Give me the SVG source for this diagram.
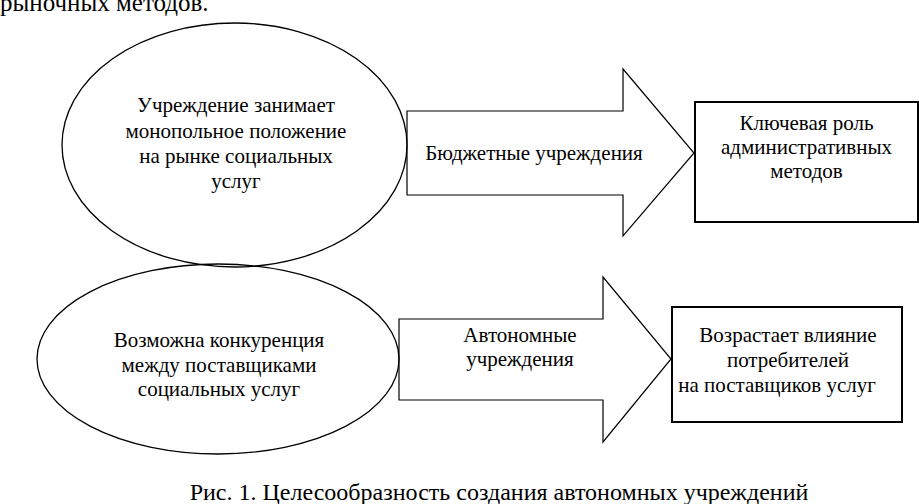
<svg xmlns="http://www.w3.org/2000/svg" width="919" height="504" viewBox="0 0 919 504">
<rect width="919" height="504" fill="#fff"/>
<text x="0" y="11" font-size="25" font-family="Liberation Serif">рыночных методов.</text>
<g id="connectors" fill="#fff" stroke="#000" stroke-width="1.2">
<path id="arrow-top" d="M407,111 H623 V69 L694,153 L623,236 V195 H407 Z"/>
<path id="arrow-bottom" d="M399,319 H603 V277 L671,359 L603,442 V400 H399 Z"/>
</g>
<g id="arrow-labels" text-anchor="middle" font-size="21">
<text x="534" y="160" font-family="Liberation Serif">Бюджетные учреждения</text>
<text x="520" y="342" font-family="Liberation Serif">Автономные</text>
<text x="520" y="366" font-family="Liberation Serif">учреждения</text>
</g>
<g id="node-monopoly" text-anchor="middle" font-size="21">
<ellipse cx="234.5" cy="145" rx="172.5" ry="122" fill="none" stroke="#000" stroke-width="1.3"/>
<text x="236" y="112" font-family="Liberation Serif">Учреждение занимает</text>
<text x="236" y="138" font-family="Liberation Serif">монопольное положение</text>
<text x="236" y="163" font-family="Liberation Serif">на рынке социальных</text>
<text x="236" y="188" font-family="Liberation Serif">услуг</text>
</g>
<g id="node-competition" text-anchor="middle" font-size="21">
<ellipse cx="218" cy="359" rx="181" ry="95" fill="none" stroke="#000" stroke-width="1.3"/>
<text x="219" y="347" font-family="Liberation Serif">Возможна конкуренция</text>
<text x="219" y="372" font-family="Liberation Serif">между поставщиками</text>
<text x="219" y="396" font-family="Liberation Serif">социальных услуг</text>
</g>
<g id="node-admin" text-anchor="middle" font-size="21">
<rect x="695" y="102" width="223" height="120" fill="#fff" stroke="#000" stroke-width="2"/>
<text x="806.5" y="130" font-family="Liberation Serif">Ключевая роль</text>
<text x="806.5" y="154" font-family="Liberation Serif">административных</text>
<text x="806.5" y="178" font-family="Liberation Serif">методов</text>
</g>
<g id="node-consumers" text-anchor="middle" font-size="21">
<rect x="672" y="307" width="230" height="115" fill="#fff" stroke="#000" stroke-width="2"/>
<text x="788" y="342" font-family="Liberation Serif">Возрастает влияние</text>
<text x="788" y="367" font-family="Liberation Serif">потребителей</text>
<text x="777" y="392" font-family="Liberation Serif">на поставщиков услуг</text>
</g>
<text x="499" y="500" text-anchor="middle" font-size="24" font-family="Liberation Serif">Рис. 1. Целесообразность создания автономных учреждений</text>
</svg>
